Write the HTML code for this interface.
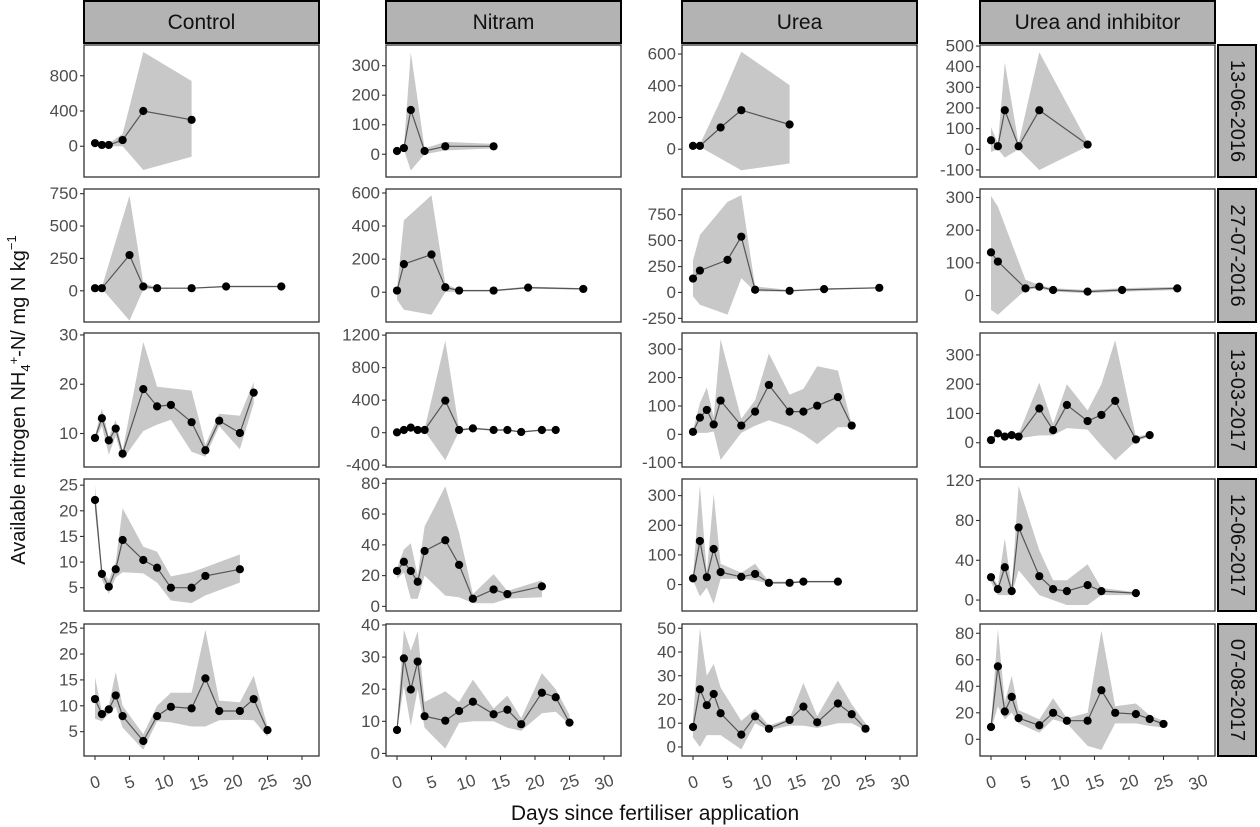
<!DOCTYPE html>
<html><head><meta charset="utf-8">
<style>
html,body{margin:0;padding:0;background:#fff;}
svg{display:block;font-family:"Liberation Sans",sans-serif;}
</style></head>
<body>
<svg id="chart" width="1260" height="827" viewBox="0 0 1260 827" xmlns="http://www.w3.org/2000/svg">
<text transform="translate(25,400) rotate(-90)" text-anchor="middle" font-size="20" fill="#111">Available nitrogen NH<tspan font-size="13" dy="5">4</tspan><tspan font-size="13" dy="-12">+</tspan><tspan dy="7">-N/ mg N kg</tspan><tspan font-size="13" dy="-9">−1</tspan></text>
<text x="655" y="820" text-anchor="middle" font-size="21" fill="#111">Days since fertiliser application</text>
</svg>
<script>
const colNames = ["Control","Nitram","Urea","Urea and inhibitor"];
const rowNames = ["13-06-2016","27-07-2016","13-03-2017","12-06-2017","07-08-2017"];
const xTicks = [0,5,10,15,20,25,30];

const yTicks = [
 [0,400,800],[0,100,200,300],[0,200,400,600],[-100,0,100,200,300,400,500],
 [0,250,500,750],[0,200,400,600],[-250,0,250,500,750],[0,100,200,300],
 [10,20,30],[-400,0,400,800,1200],[-100,0,100,200,300],[0,100,200,300],
 [5,10,15,20,25],[0,20,40,60,80],[0,100,200,300],[0,40,80,120],
 [5,10,15,20,25],[0,10,20,30,40],[0,10,20,30,40,50],[0,20,40,60,80]
];
const yDomain = [
 [-349,1149],[-77,370],[-175,657],[-134,505],
 [-241,786],[-180,624],[-285,998],[-81,326],
 [3.2,30.4],[-422,1226],[-115,357],[-83,375],
 [0.46,26.2],[-3,82.8],[-89,356],[-11,121.7],
 [0.3,25.8],[-0.8,40.3],[-3.8,51.8],[-12.6,87]
];
const days13 = [0,1,2,3,4,7,9,11,14,16,18,21,23];
const days11 = [0,1,2,3,4,7,9,11,14,16,21];
const days14 = [0,1,2,3,4,7,9,11,14,16,18,21,23,25];
const days8 = [0,1,5,7,9,14,19,27];
const panelDays = [
 [0,1,2,4,7,14],[0,1,2,4,7,14],[0,1,4,7,14],[0,1,2,4,7,14],
 days8,days8,days8,days8,
 days13,days13,days13,days13,
 days11,days11,days11,days11,
 days14,days14,days14,days14
];
const panelVals = [
 [35,15,15,70,400,300],[11,21,150,11,27,27],[21,21,137,246,156],[44,15,189,15,189,23],
 [20,20,276,33,20,20,33,33],[10,170,228,30,10,10,28,20],[134,211,314,538,26,16,32,45],[132,104,22,27,17,12,17,22],
 [9.1,13.1,8.6,11,5.9,19,15.5,15.8,12.3,6.6,12.6,10.1,18.3],[4,33,62,33,33,394,33,53,33,33,8,33,33],[9,59,86,35,119,31,80,174,80,80,101,131,31],[9,32,21,26,21,117,43,129,74,95,143,11,26],
 [22.1,7.7,5.2,8.6,14.3,10.4,8.9,5,5,7.3,8.6],[23,29,23,16,36,43,27,5,11,8,13],[21,147,25,120,42,26,36,6,6,10,10],[23,11,33,9,73,24,11,9,15,9,7],
 [11.3,8.4,9.3,12,8,3.2,8,9.8,9.5,15.3,9,9,11.3,5.3],[7.3,29.6,19.9,28.6,11.6,10.2,13.2,16.1,12.2,13.6,9.1,18.9,17.5,9.6],[8.4,24.3,17.6,22.3,14.2,5.2,12.9,7.7,11.4,17,10.4,18.3,13.8,7.7],[9.3,55,21,32,16,10.6,20,14,14,37,20,19,15.3,11.6]
];
const panelLo = [
 [25,5,0,0,-270,-120],[5,15,-55,0,13,20],[15,15,-59,-133,-90],[-13,0,-40,0,-100,15],
 [15,15,-230,10,15,15,28,28],[-46,-106,-136,0,5,5,22,15],[-38,-118,-214,138,10,8,25,38],[-44,-59,17,22,12,7,12,17],
 [8.5,11.5,5.7,9.5,4.7,10.5,11.8,12.8,6.3,5.3,11.5,6.8,16.1],[-5,25,52,25,20,-340,20,43,25,25,0,25,25],[5,5,5,10,-90,5,30,50,25,0,-35,25,25],[5,25,15,20,15,25,25,50,45,-10,-60,5,22],
 [20,6.5,3.8,7,8,7.8,6,2.5,2,3.5,6],[18,22,5,5,20,7,6,2,2,5,6],[15,-40,-10,-65,20,20,15,3,3,7,7],[18,5,5,5,30,5,0,-5,-5,5,5],
 [7.5,7,8.5,9.8,5.8,1.5,7,6.8,6,6,7.2,7.3,7.2,4],[7,21,8.5,20,8,1.5,9.5,10,10,8,7,12.5,13,9],[4,0,5,5,5,-1,10,7,9,9,8,10,10,7],[7,25,15,20,12,5,15,12,-5,-8,12,12,10,9]
];
const panelHi = [
 [45,25,30,140,1070,740],[15,25,345,20,42,35],[25,30,309,615,404],[108,30,420,30,470,35],
 [25,30,735,60,25,25,38,38],[20,435,586,50,15,15,34,25],[310,554,874,938,58,24,40,52],[305,272,48,32,22,17,22,27],
 [9.5,15.1,9.2,12.8,6.5,28.6,19.5,19.2,18.7,7.7,14,13.6,20.4],[12,41,72,41,45,1130,45,63,41,41,16,41,41],[15,110,165,60,335,55,120,285,140,160,240,225,35],[12,40,28,30,30,205,65,200,110,200,350,20,30],
 [25,8.5,6.5,10,20.5,13,12,7.2,8,9,11.5],[25,37,41,20,52,78,48,8,21,10,17],[25,335,40,305,70,40,70,10,10,13,13],[26,15,62,12,115,50,20,20,36,12,8],
 [15.5,9,10,16.5,10,4.5,10,12.5,12.5,24.7,11,10.7,15.8,6],[9,38.5,32,38,16,19.3,16,23,14,18,11,25,20,12],[12,50,30,35,25,11,16,9,12,27,13,28,18,10],[12,83,28,48,22,15,31,16,20,82,25,27,18,14]
];

const NS = "http://www.w3.org/2000/svg";
const svg = document.getElementById("chart");
const colLeft = [84,386,682,980];
const panelW = 235;
const rowTop = [45,189,333,479,624];
const rowBot = [177,322,467,611,756];
function mk(tag, attrs, parent){
  const e = document.createElementNS(NS, tag);
  for (const k in attrs) e.setAttribute(k, attrs[k]);
  (parent||svg).appendChild(e);
  return e;
}
function xScale(c, d){ return colLeft[c] + 11 + d * 6.9; }
function yScale(p, r, v){
  const [a,b] = yDomain[p];
  return rowBot[r] - (v - a) / (b - a) * (rowBot[r] - rowTop[r]);
}

for (let c = 0; c < 4; c++){
  const g = mk("g", {});
  
  
  mk("rect", {x: colLeft[c], y: 1, width: panelW, height: 42, fill: "#b3b3b3", stroke: "#000", "stroke-width": 2}, g);
  const t = mk("text", {x: colLeft[c] + panelW/2, y: 29, "text-anchor": "middle", "font-size": 21, fill: "#111"}, g);
  t.textContent = colNames[c];
}
for (let r = 0; r < 5; r++){
  const g = mk("g", {});
  
  
  mk("rect", {x: 1218, y: rowTop[r], width: 38, height: rowBot[r]-rowTop[r], fill: "#b3b3b3", stroke: "#000", "stroke-width": 2}, g);
  const cy = (rowTop[r]+rowBot[r])/2;
  const t = mk("text", {x: 1237, y: cy, "text-anchor": "middle", "dominant-baseline": "central", "font-size": 20, fill: "#111", transform: "rotate(90 1237 " + cy + ")"}, g);
  t.textContent = rowNames[r];
}

for (let r = 0; r < 5; r++){
  for (let c = 0; c < 4; c++){
    const p = r*4 + c;
    const g = mk("g", {});
    
    
    const L = colLeft[c], T = rowTop[r], B = rowBot[r];
    mk("rect", {x: L, y: T, width: panelW, height: B-T, fill: "#fff"}, g);
    const ds = panelDays[p], vs = panelVals[p], lo = panelLo[p], hi = panelHi[p];
    let pts = [];
    for (let i = 0; i < ds.length; i++) pts.push(xScale(c, ds[i]).toFixed(1) + "," + yScale(p, r, hi[i]).toFixed(1));
    for (let i = ds.length-1; i >= 0; i--) pts.push(xScale(c, ds[i]).toFixed(1) + "," + yScale(p, r, lo[i]).toFixed(1));
    const rib = mk("polygon", {points: pts.join(" "), fill: "#c8c8c8"}, g);
    
    
    const lp = ds.map((d,i) => xScale(c, d).toFixed(1) + "," + yScale(p, r, vs[i]).toFixed(1)).join(" ");
    const ln = mk("polyline", {points: lp, fill: "none", stroke: "#555", "stroke-width": 1.2}, g);
    
    
    for (let i = 0; i < ds.length; i++){
      const pt = mk("circle", {cx: xScale(c, ds[i]), cy: yScale(p, r, vs[i]), r: 4.1, fill: "#000"}, g);
      
      
    }
    mk("rect", {x: L, y: T, width: panelW, height: B-T, fill: "none", stroke: "#333", "stroke-width": 1.3}, g);
    yTicks[p].forEach(v => {
      const y = yScale(p, r, v);
      mk("line", {x1: L-4, x2: L, y1: y, y2: y, stroke: "#333", "stroke-width": 1.1}, g);
      const t = mk("text", {x: L-6, y: y, "text-anchor": "end", "dominant-baseline": "central", "font-size": 17, fill: "#4d4d4d"}, g);
      
      
      t.textContent = v;
    });
    if (r === 4){
      xTicks.forEach(d => {
        const x = xScale(c, d);
        mk("line", {x1: x, x2: x, y1: B, y2: B+4, stroke: "#333", "stroke-width": 1.1}, g);
        const t = mk("text", {x: x, y: B+32, "text-anchor": "middle", "font-size": 17, fill: "#4d4d4d", transform: "rotate(-18 " + x + " " + (B+26) + ")"}, g);
        
        
        t.textContent = d;
      });
    }
  }
}
</script>
</body></html>
